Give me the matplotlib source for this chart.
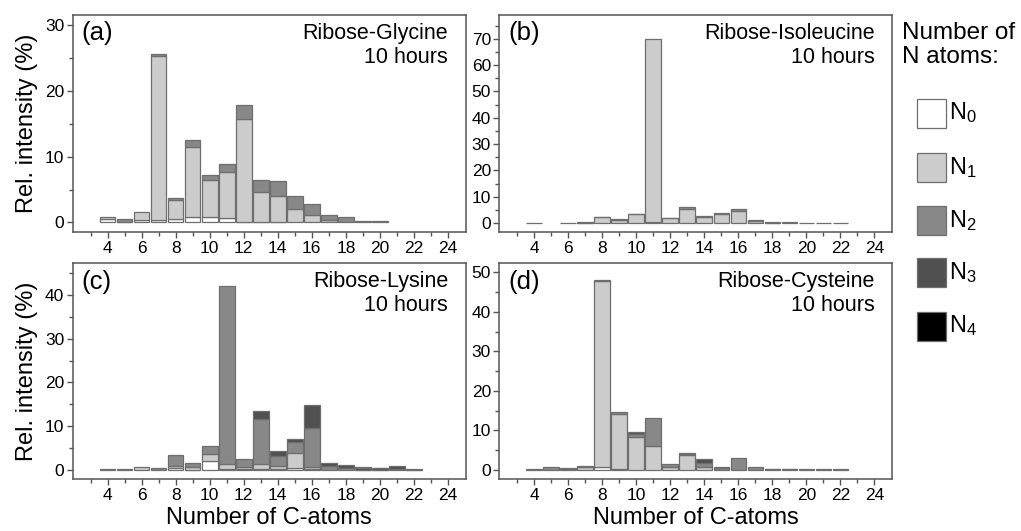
import matplotlib
matplotlib.use('Agg')
import matplotlib.pyplot as plt
from matplotlib.patches import Rectangle
import numpy as np

plt.rcParams['font.family'] = ['Liberation Sans', 'DejaVu Sans']
plt.rcParams['mathtext.default'] = 'regular'

# carbon numbers and relative intensities (%) split by number of N atoms
c_gly = np.arange(4, 21)
gly_n0 = [0.5, 0.0, 0.3, 0.3, 0.5, 0.8, 0.8, 0.65, 0.1, 0.05, 0.05, 0, 0, 0, 0, 0, 0]
gly_n1 = [0.4, 0.1, 1.3, 25.0, 2.9, 10.7, 5.6, 7.0, 15.6, 4.6, 4.0, 2.1, 1.2, 0.4, 0, 0, 0]
gly_n2 = [0, 0.35, 0, 0.3, 0.35, 1.0, 0.75, 1.25, 2.2, 1.8, 2.25, 1.9, 1.55, 0.8, 0.8, 0.25, 0.15]
gly_n3 = [0] * 17
gly_n4 = [0] * 17

c_ile = np.arange(4, 23)
ile_n0 = [0, 0, 0, 0, 0, 0, 0, 0.5, 0, 0, 0, 0, 0, 0, 0, 0, 0, 0, 0]
ile_n1 = [0.15, 0, 0, 0.15, 2.3, 1.0, 3.3, 69.5, 1.9, 5.2, 2.3, 3.6, 4.6, 0.8, 0.2, 0, 0.15, 0.15, 0]
ile_n2 = [0, 0, 0.2, 0.25, 0.2, 0.5, 0.2, 0, 0.1, 0.8, 0.5, 0.4, 0.7, 0.5, 0.4, 0.25, 0, 0, 0.2]
ile_n3 = [0] * 19
ile_n4 = [0] * 19

c_lys = np.arange(4, 23)
lys_n0 = [0, 0, 0, 0, 0.4, 0.1, 2.0, 0.2, 0.2, 0.3, 0.3, 0.5, 0.3, 0, 0, 0, 0, 0, 0]
lys_n1 = [0.15, 0.15, 0.75, 0, 0.5, 0.5, 1.75, 1.1, 0.6, 1.0, 0.7, 3.4, 0.45, 0, 0, 0, 0, 0, 0.1]
lys_n2 = [0, 0, 0, 0.45, 2.45, 1.1, 1.85, 40.8, 1.65, 10.3, 2.2, 2.6, 8.8, 0.9, 0.4, 0.1, 0.1, 0.3, 0.15]
lys_n3 = [0, 0, 0, 0, 0, 0, 0, 0, 0, 1.9, 1.1, 0.6, 5.3, 0.8, 0.7, 0.45, 0.35, 0.55, 0]
lys_n4 = [0, 0, 0, 0, 0, 0, 0, 0, 0, 0, 0, 0, 0, 0, 0, 0.15, 0.1, 0, 0]

c_cys = np.arange(4, 23)
cys_n0 = [0, 0, 0, 0, 0.8, 0.1, 0, 0, 0, 0, 0, 0, 0, 0, 0, 0, 0, 0, 0]
cys_n1 = [0.15, 0, 0, 0.8, 46.9, 14.1, 8.2, 6.1, 0.8, 3.8, 0.6, 0, 0, 0, 0, 0, 0.15, 0, 0.15]
cys_n2 = [0, 0.6, 0.2, 0.2, 0.4, 0.4, 0.75, 6.9, 0.55, 0.2, 1.2, 0.4, 3.0, 0.8, 0.1, 0.1, 0, 0.2, 0]
cys_n3 = [0, 0, 0.15, 0, 0, 0, 0.5, 0, 0, 0.2, 0.8, 0.2, 0, 0, 0.2, 0.2, 0, 0, 0]
cys_n4 = [0] * 19

n_labels = ['N$_0$', 'N$_1$', 'N$_2$', 'N$_3$', 'N$_4$']
n_colors = ['#ffffff', '#cccccc', '#888888', '#505050', '#000000']
edge = '#6e6e6e'
frame = '#555555'

panels = [
    ('(a)', 'Ribose-Glycine\n10 hours', c_gly, [gly_n0, gly_n1, gly_n2, gly_n3, gly_n4],
     (-1.5, 31.5), 10, [0.0712, 0.5625, 0.385, 0.4093]),
    ('(b)', 'Ribose-Isoleucine\n10 hours', c_ile, [ile_n0, ile_n1, ile_n2, ile_n3, ile_n4],
     (-3.5, 79), 10, [0.489, 0.5625, 0.385, 0.4093]),
    ('(c)', 'Ribose-Lysine\n10 hours', c_lys, [lys_n0, lys_n1, lys_n2, lys_n3, lys_n4],
     (-2.1, 47.2), 10, [0.0712, 0.0975, 0.385, 0.4066]),
    ('(d)', 'Ribose-Cysteine\n10 hours', c_cys, [cys_n0, cys_n1, cys_n2, cys_n3, cys_n4],
     (-2.4, 52.3), 10, [0.489, 0.0975, 0.385, 0.4066]),
]

fig = plt.figure(figsize=(10.21, 5.31), dpi=100)

for i, (tag, name, carbons, layers, ylim, ymaj, rect) in enumerate(panels):
    ax = fig.add_axes(rect)
    bottom = np.zeros(len(carbons))
    for vals, col in zip(layers, n_colors):
        vals = np.array(vals, dtype=float)
        mask = vals > 0
        ax.bar(carbons[mask], vals[mask], bottom=bottom[mask], width=0.92,
               color=col, edgecolor=edge, linewidth=0.9)
        bottom += vals
    ax.set_xlim(1.95, 25.05)
    ax.set_ylim(*ylim)
    ax.set_xticks(np.arange(4, 25, 2))
    ax.set_xticks(np.arange(3, 25, 1), minor=True)
    ax.set_yticks(np.arange(0, ylim[1], ymaj))
    ax.set_yticks(np.arange(5, ylim[1], ymaj / 2), minor=True)
    ax.tick_params(labelsize=12.5, color=frame, length=4, width=1, pad=2)
    ax.tick_params(which='minor', color=frame, length=3, width=1)
    for sp in ax.spines.values():
        sp.set_color(frame)
        sp.set_linewidth(1.1)
    ax.text(0.022, 0.97, tag, transform=ax.transAxes, ha='left', va='top', fontsize=18.5)
    ax.text(0.955, 0.965, name, transform=ax.transAxes, ha='right', va='top',
            fontsize=15.5, linespacing=1.2)
    if i % 2 == 0:
        ax.set_ylabel('Rel. intensity (%)', fontsize=17, labelpad=5)
    if i >= 2:
        ax.set_xlabel('Number of C-atoms', fontsize=17, labelpad=3)

# key for the number of nitrogen atoms, placed in pixel units of the figure
W, H = 1021.0, 531.0
fig.text(902 / W, 1 - 22 / H, 'Number of\nN atoms:', ha='left', va='top',
         fontsize=17.5, linespacing=1.1)
key_y = [113, 167.5, 220.5, 272.5, 326]
for yc, col, lab in zip(key_y, n_colors, n_labels):
    fig.add_artist(Rectangle((917 / W, 1 - (yc + 14.5) / H), 29 / W, 29 / H,
                             transform=fig.transFigure, facecolor=col,
                             edgecolor=edge, linewidth=0.9))
    fig.text(949 / W, 1 - yc / H, lab, ha='left', va='center', fontsize=17)

fig.savefig('out.png', dpi=100)
